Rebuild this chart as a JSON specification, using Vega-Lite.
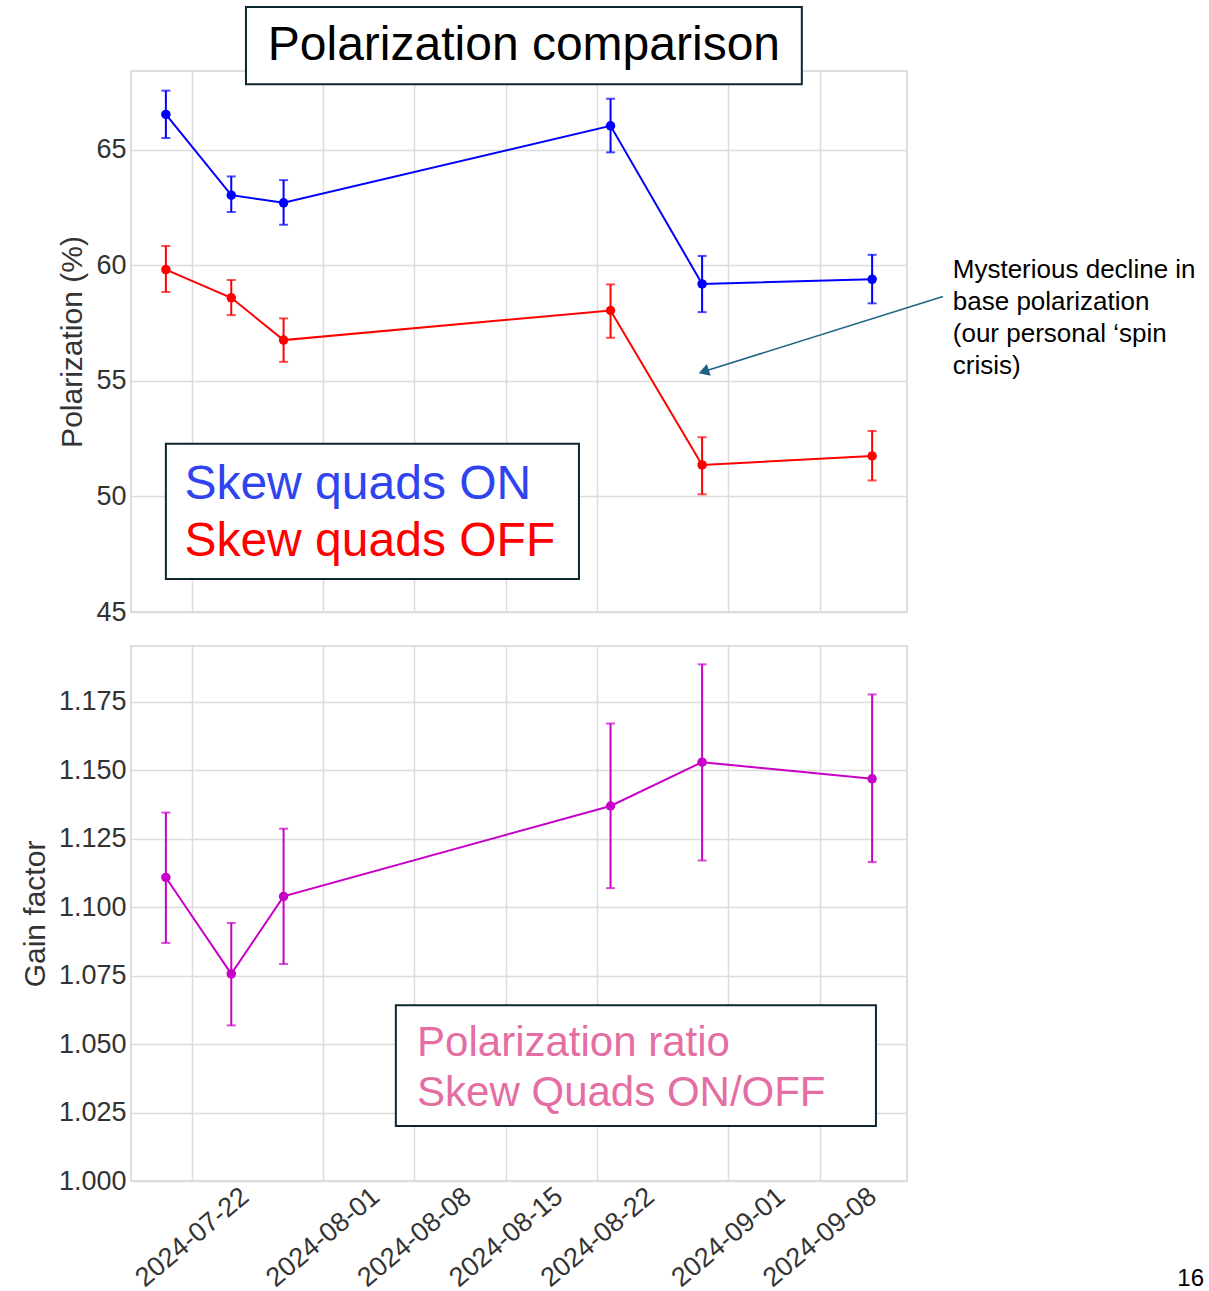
{
  "$schema": "https://vega.github.io/schema/vega-lite/v6.json",
  "padding": {"left": 19, "top": 5, "right": 0, "bottom": 0},
  "background": "white",
  "spacing": 19,
  "config": {
    "font": "Liberation Sans",
    "view": {"stroke": "#d4d4d4", "strokeWidth": 1.5},
    "axis": {
      "gridColor": "#dcdcdc", "gridWidth": 1.5, "domain": false, "ticks": false, "tickSize": 0,
      "labelFont": "Liberation Sans", "labelFontSize": 27, "labelColor": "#333333", "labelPadding": 5,
      "titleFont": "Liberation Sans", "titleFontSize": 30, "titleFontWeight": "normal", "titleColor": "#333333", "titlePadding": 8
    }
  },
  "datasets": {
    "pol": [
      {"date": "2024-07-20", "series": "ON", "value": 66.52, "lo": 65.5, "hi": 67.55},
      {"date": "2024-07-25", "series": "ON", "value": 63.03, "lo": 62.3, "hi": 63.84},
      {"date": "2024-07-29", "series": "ON", "value": 62.7, "lo": 61.75, "hi": 63.68},
      {"date": "2024-08-23", "series": "ON", "value": 66.03, "lo": 64.88, "hi": 67.2},
      {"date": "2024-08-30", "series": "ON", "value": 59.19, "lo": 57.97, "hi": 60.4},
      {"date": "2024-09-12", "series": "ON", "value": 59.39, "lo": 58.35, "hi": 60.45},
      {"date": "2024-07-20", "series": "OFF", "value": 59.81, "lo": 58.84, "hi": 60.83},
      {"date": "2024-07-25", "series": "OFF", "value": 58.59, "lo": 57.84, "hi": 59.36},
      {"date": "2024-07-29", "series": "OFF", "value": 56.76, "lo": 55.82, "hi": 57.7},
      {"date": "2024-08-23", "series": "OFF", "value": 58.04, "lo": 56.86, "hi": 59.17},
      {"date": "2024-08-30", "series": "OFF", "value": 51.36, "lo": 50.09, "hi": 52.56},
      {"date": "2024-09-12", "series": "OFF", "value": 51.75, "lo": 50.69, "hi": 52.83}
    ],
    "gain": [
      {"date": "2024-07-20", "value": 1.1108, "lo": 1.0869, "hi": 1.1345},
      {"date": "2024-07-25", "value": 1.0756, "lo": 1.0568, "hi": 1.0942},
      {"date": "2024-07-29", "value": 1.1039, "lo": 1.0792, "hi": 1.1286},
      {"date": "2024-08-23", "value": 1.1369, "lo": 1.1069, "hi": 1.167},
      {"date": "2024-08-30", "value": 1.1529, "lo": 1.117, "hi": 1.1886},
      {"date": "2024-09-12", "value": 1.1468, "lo": 1.1164, "hi": 1.1776}
    ]
  },
  "vconcat": [
    {
      "width": 776,
      "height": 541,
      "layer": [
        {
          "data": {"name": "pol"},
          "encoding": {
            "x": {
              "field": "date", "type": "temporal",
              "scale": {"type": "utc", "domain": ["2024-07-17T08:00:00Z", "2024-09-14T16:00:00Z"]},
              "axis": {
                "values": ["2024-07-22T00:00:00Z", "2024-08-01T00:00:00Z", "2024-08-08T00:00:00Z", "2024-08-15T00:00:00Z", "2024-08-22T00:00:00Z", "2024-09-01T00:00:00Z", "2024-09-08T00:00:00Z"],
                "labels": false, "title": null, "grid": true
              }
            },
            "color": {"field": "series", "type": "nominal", "scale": {"domain": ["ON", "OFF"], "range": ["#0000ff", "#ff0000"]}, "legend": null}
          },
          "layer": [
            {
              "mark": {"type": "rule", "strokeWidth": 2},
              "encoding": {
                "y": {"field": "lo", "type": "quantitative", "scale": {"domain": [45, 68.4], "nice": false, "zero": false}, "axis": {"values": [45, 50, 55, 60, 65], "title": "Polarization (%)", "grid": true}},
                "y2": {"field": "hi"}
              }
            },
            {"mark": {"type": "tick", "orient": "horizontal", "size": 9, "thickness": 2}, "encoding": {"y": {"field": "lo", "type": "quantitative"}}},
            {"mark": {"type": "tick", "orient": "horizontal", "size": 9, "thickness": 2}, "encoding": {"y": {"field": "hi", "type": "quantitative"}}},
            {"mark": {"type": "line", "strokeWidth": 2}, "encoding": {"y": {"field": "value", "type": "quantitative"}}},
            {"mark": {"type": "point", "filled": true, "size": 90, "opacity": 1}, "encoding": {"y": {"field": "value", "type": "quantitative"}}}
          ]
        },
        {
          "data": {"values": [{"x0": "2024-07-26T03:00:00Z", "x1": "2024-09-06T15:00:00Z", "y0": 71.17, "y1": 67.83}, {"x0": "2024-07-20T00:00:00Z", "x1": "2024-08-20T14:00:00Z", "y0": 52.28, "y1": 46.43}]},
          "mark": {"type": "rect", "fill": "white", "stroke": "#0d2630", "strokeWidth": 2},
          "encoding": {
            "x": {"field": "x0", "type": "temporal"},
            "x2": {"field": "x1"},
            "y": {"field": "y0", "type": "quantitative"},
            "y2": {"field": "y1"}
          }
        },
        {
          "data": {"values": [{"t": "2024-08-16T09:00:00Z", "v": 69.48, "label": "Polarization comparison"}]},
          "mark": {"type": "text", "fontSize": 48, "align": "center", "baseline": "middle", "color": "black"},
          "encoding": {
            "x": {"field": "t", "type": "temporal"},
            "y": {"field": "v", "type": "quantitative"},
            "text": {"field": "label"}
          }
        },
        {
          "data": {"values": [{"t": "2024-07-21T10:00:00Z", "v": 49.9, "label": "Skew quads ON"}]},
          "mark": {"type": "text", "fontSize": 48, "align": "left", "baseline": "alphabetic", "color": "#2f44ef"},
          "encoding": {
            "x": {"field": "t", "type": "temporal"},
            "y": {"field": "v", "type": "quantitative"},
            "text": {"field": "label"}
          }
        },
        {
          "data": {"values": [{"t": "2024-07-21T10:00:00Z", "v": 47.43, "label": "Skew quads OFF"}]},
          "mark": {"type": "text", "fontSize": 48, "align": "left", "baseline": "alphabetic", "color": "#ff0000"},
          "encoding": {
            "x": {"field": "t", "type": "temporal"},
            "y": {"field": "v", "type": "quantitative"},
            "text": {"field": "label"}
          }
        },
        {
          "data": {"values": [{"t0": "2024-09-17T10:00:00Z", "t1": "2024-08-30T03:00:00Z", "v0": 58.65, "v1": 55.4}]},
          "mark": {"type": "rule", "strokeWidth": 1.5, "color": "#1b6484"},
          "encoding": {
            "x": {"field": "t0", "type": "temporal"},
            "x2": {"field": "t1"},
            "y": {"field": "v0", "type": "quantitative"},
            "y2": {"field": "v1"}
          }
        },
        {
          "data": {"values": [{"t": "2024-08-30T03:00:00Z", "v": 55.4}]},
          "mark": {"type": "point", "shape": "triangle-up", "filled": true, "size": 150, "angle": 252, "opacity": 1, "color": "#1b6484"},
          "encoding": {
            "x": {"field": "t", "type": "temporal"},
            "y": {"field": "v", "type": "quantitative"}
          }
        },
        {
          "data": {"values": [{"t": "2024-09-18T04:00:00Z", "v": 59.43, "label": "Mysterious decline in\nbase polarization\n(our personal ‘spin\ncrisis)"}]},
          "mark": {"type": "text", "fontSize": 26, "align": "left", "baseline": "alphabetic", "lineBreak": "\n", "lineHeight": 32, "color": "black"},
          "encoding": {
            "x": {"field": "t", "type": "temporal"},
            "y": {"field": "v", "type": "quantitative"},
            "text": {"field": "label"}
          }
        }
      ]
    },
    {
      "width": 776,
      "height": 535,
      "layer": [
        {
          "data": {"name": "gain"},
          "encoding": {
            "x": {
              "field": "date", "type": "temporal",
              "scale": {"type": "utc", "domain": ["2024-07-17T08:00:00Z", "2024-09-14T16:00:00Z"]},
              "axis": {
                "values": ["2024-07-22T00:00:00Z", "2024-08-01T00:00:00Z", "2024-08-08T00:00:00Z", "2024-08-15T00:00:00Z", "2024-08-22T00:00:00Z", "2024-09-01T00:00:00Z", "2024-09-08T00:00:00Z"],
                "format": "%Y-%m-%d", "labelAngle": -40, "labelAlign": "center", "labelBaseline": "middle",
                "labelPadding": 56, "labelOverlap": false, "labelFlush": false, "title": null, "grid": true, "labelFontSize": 27
              }
            },
            "color": {"value": "#c800c8"}
          },
          "layer": [
            {
              "mark": {"type": "rule", "strokeWidth": 2},
              "encoding": {
                "y": {"field": "lo", "type": "quantitative", "scale": {"domain": [1.0, 1.1953], "nice": false, "zero": false}, "axis": {"values": [1.0, 1.025, 1.05, 1.075, 1.1, 1.125, 1.15, 1.175], "format": ".3f", "title": "Gain factor", "grid": true}},
                "y2": {"field": "hi"}
              }
            },
            {"mark": {"type": "tick", "orient": "horizontal", "size": 9, "thickness": 2}, "encoding": {"y": {"field": "lo", "type": "quantitative"}}},
            {"mark": {"type": "tick", "orient": "horizontal", "size": 9, "thickness": 2}, "encoding": {"y": {"field": "hi", "type": "quantitative"}}},
            {"mark": {"type": "line", "strokeWidth": 2}, "encoding": {"y": {"field": "value", "type": "quantitative"}}},
            {"mark": {"type": "point", "filled": true, "size": 90, "opacity": 1}, "encoding": {"y": {"field": "value", "type": "quantitative"}}}
          ]
        },
        {
          "data": {"values": [{"x0": "2024-08-06T14:00:00Z", "x1": "2024-09-12T07:00:00Z", "y0": 1.0642, "y1": 1.0201}]},
          "mark": {"type": "rect", "fill": "white", "stroke": "#0d2630", "strokeWidth": 2},
          "encoding": {
            "x": {"field": "x0", "type": "temporal"},
            "x2": {"field": "x1"},
            "y": {"field": "y0", "type": "quantitative"},
            "y2": {"field": "y1"}
          }
        },
        {
          "data": {"values": [{"t": "2024-08-08T05:00:00Z", "v": 1.0456, "label": "Polarization ratio"}, {"t": "2024-08-08T05:00:00Z", "v": 1.0274, "label": "Skew Quads ON/OFF"}]},
          "mark": {"type": "text", "fontSize": 42, "align": "left", "baseline": "alphabetic", "color": "#e46ea3"},
          "encoding": {
            "x": {"field": "t", "type": "temporal"},
            "y": {"field": "v", "type": "quantitative"},
            "text": {"field": "label"}
          }
        },
        {
          "data": {"values": [{"t": "2024-10-07T09:00:00Z", "v": 0.9617, "label": "16"}]},
          "mark": {"type": "text", "fontSize": 24, "align": "right", "baseline": "alphabetic", "color": "black"},
          "encoding": {
            "x": {"field": "t", "type": "temporal"},
            "y": {"field": "v", "type": "quantitative"},
            "text": {"field": "label"}
          }
        }
      ]
    }
  ]
}
